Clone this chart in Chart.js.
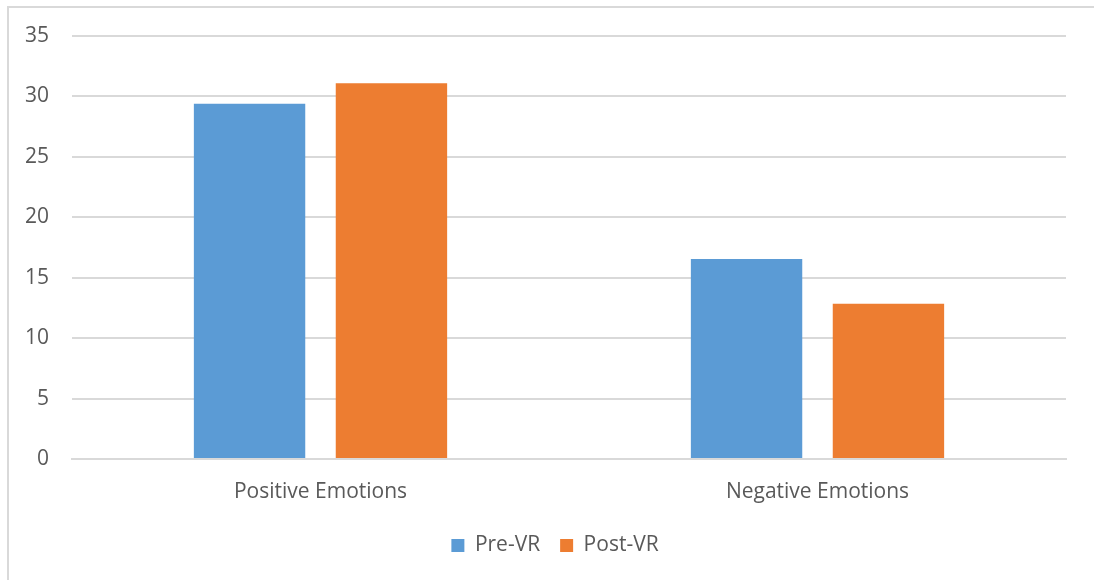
<!DOCTYPE html>
<html>
<head>
<meta charset="utf-8">
<script src="https://cdn.jsdelivr.net/npm/chart.js@4/dist/chart.umd.min.js"></script>
<style>
  html, body { margin: 0; padding: 0; background: #ffffff; }
  #wrap { position: relative; width: 1094px; height: 580px; }
</style>
</head>
<body>
<div id="wrap"><canvas id="c" width="1094" height="580"></canvas></div>
<script>
const categories = ['Positive Emotions', 'Negative Emotions'];
const preVR = [29.4, 16.55];
const postVR = [31.1, 12.85];
const yTicks = [0, 5, 10, 15, 20, 25, 30, 35];

const textColor = '#595959';
const gridColor = '#d9d9d9';
const fontFamily = '"Open Sans", "Liberation Sans", sans-serif';

// Thin frame along the top and left edges of the chart box
const framePlugin = {
  id: 'frame',
  beforeDraw(chart) {
    const ctx = chart.ctx;
    ctx.save();
    ctx.strokeStyle = gridColor;
    ctx.lineWidth = 2;
    ctx.beginPath();
    ctx.moveTo(8, 580);
    ctx.lineTo(8, 7);
    ctx.lineTo(1094, 7);
    ctx.stroke();
    ctx.restore();
  }
};

// Centre the legend under the plot area rather than under the whole canvas
const legendShift = {
  id: 'legendShift',
  afterLayout(chart) {
    const lg = chart.legend;
    if (!lg) return;
    const dx = 22;
    lg.left += dx;
    lg.right += dx;
  }
};

new Chart(document.getElementById('c'), {
  type: 'bar',
  data: {
    labels: categories,
    datasets: [
      { label: 'Pre-VR', data: preVR, backgroundColor: '#5b9bd5', borderWidth: 0 },
      { label: 'Post-VR', data: postVR, backgroundColor: '#ed7d31', borderWidth: 0 }
    ]
  },
  options: {
    responsive: false,
    animation: false,
    devicePixelRatio: 1,
    layout: { padding: { left: 0, right: 28, top: 36, bottom: 14 } },
    datasets: { bar: { categoryPercentage: 0.571, barPercentage: 0.785 } },
    plugins: {
      tooltip: { enabled: false },
      legend: {
        position: 'bottom',
        labels: {
          color: textColor,
          font: { family: fontFamily, size: 21 },
          boxWidth: 13,
          boxHeight: 13,
          padding: 20
        }
      }
    },
    scales: {
      x: {
        grid: { display: false },
        border: { display: true, color: gridColor, width: 2 },
        ticks: { color: textColor, font: { family: fontFamily, size: 21 }, padding: 12 },
        afterFit(scale) { scale.height = 56; }
      },
      y: {
        min: 0,
        max: 35,
        afterBuildTicks(scale) { scale.ticks = yTicks.map(v => ({ value: v })); },
        grid: { color: gridColor, lineWidth: 2, drawTicks: false },
        border: { display: false },
        ticks: { color: textColor, font: { family: fontFamily, size: 21 }, padding: 23 },
        afterFit(scale) { scale.width = 72; }
      }
    }
  },
  plugins: [framePlugin, legendShift]
});
</script>
</body>
</html>
